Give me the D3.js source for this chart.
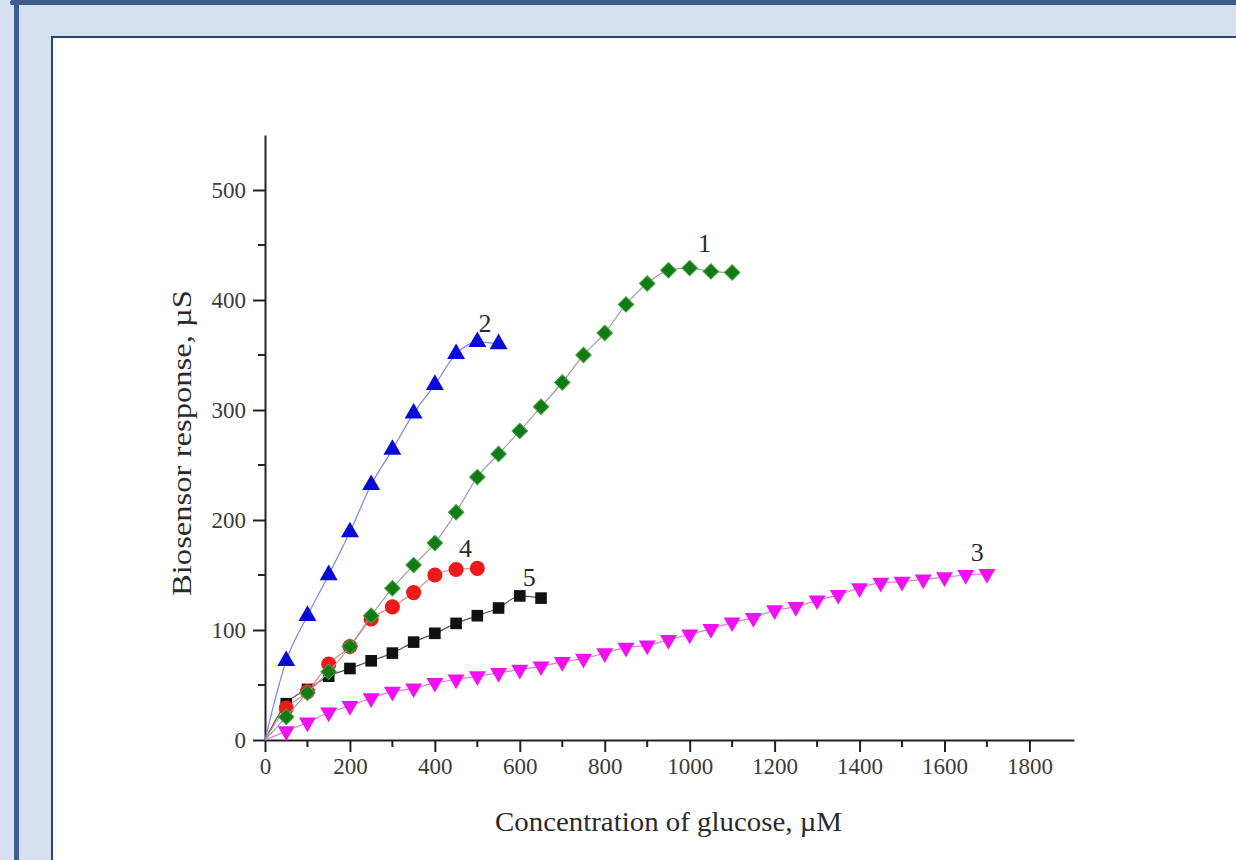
<!DOCTYPE html>
<meta charset="utf-8">
<head>
<style>
body { margin: 0; background: #d6e0f1; }
svg { display: block; }
.tick text { font-family: "Liberation Serif", serif; font-size: 23px; fill: #3a3a3a; }
.axis-title { font-family: "Liberation Serif", serif; font-size: 27px; fill: #2a2a2a; }
.curve-label { font-family: "Liberation Serif", serif; font-size: 26px; fill: #2a2a2a; }
</style>
</head>
<body>
<div id="chart"></div>
<script src="https://d3js.org/d3.v7.min.js"></script>
<script>

// concentrations (uM)
var conc1 = [50,100,150,200,250,300,350,400,450,500,550,600,650,700,750,800,850,900,950,1000,1050,1100];
var resp1 = [21,43,62,85,113,138,159,179,207,239,260,281,303,325,350,370,396,415,427,429,426,425];

var conc2 = [50,100,150,200,250,300,350,400,450,500,550];
var resp2 = [72,113,150,189,232,264,297,323,351,362,360];

var conc3 = [50,100,150,200,250,300,350,400,450,500,550,600,650,700,750,800,850,900,950,1000,1050,1100,1150,1200,1250,1300,1350,1400,1450,1500,1550,1600,1650,1700];
var resp3 = [8,16,25,31,38,44,47,52,55,58,61,64,67,71,74,79,84,86,91,96,101,107,111,118,121,127,132,138,143,144,146,148,150,151];

var conc4 = [50,100,150,200,250,300,350,400,450,500];
var resp4 = [29,44,69,85,110,121,134,150,155,156];

var conc5 = [50,100,150,200,250,300,350,400,450,500,550,600,650];
var resp5 = [33,46,58,65,72,79,89,97,106,113,120,131,129];

var curveNames = ["1","2","3","4","5"];
var xTicks = [0,200,400,600,800,1000,1200,1400,1600,1800];
var yTicks = [0,100,200,300,400,500];

var W = 1236, H = 860;

var svg = d3.select("#chart").append("svg")
    .attr("width", W)
    .attr("height", H);

// slide frame
svg.append("rect").attr("width", W).attr("height", H).attr("fill", "#d6e0f1");
svg.append("rect").attr("x", 10).attr("y", 0).attr("width", W).attr("height", 5)
    .attr("rx", 2).attr("fill", "#3d5e8c");
svg.append("rect").attr("x", 14).attr("y", 0).attr("width", 5).attr("height", H)
    .attr("fill", "#3d5e8c");
svg.append("rect").attr("x", 52).attr("y", 37).attr("width", W).attr("height", H)
    .attr("fill", "#fff").attr("stroke", "#2c4670").attr("stroke-width", 2);

var x = d3.scaleLinear().domain([0, 1905]).range([265, 1074]);
var y = d3.scaleLinear().domain([0, 550]).range([740, 135]);

// x axis: major ticks + minor
var xAxis = svg.append("g").attr("transform", "translate(0,740)");
xAxis.call(d3.axisBottom(x).tickValues(xTicks).tickFormat(d3.format("d"))
    .tickSize(12).tickPadding(6).tickSizeOuter(0));
xAxis.append("g").selectAll("line")
    .data(d3.range(100, 1900, 200))
    .enter().append("line")
    .attr("x1", function(d) { return x(d); }).attr("x2", function(d) { return x(d); })
    .attr("y1", 0).attr("y2", 7)
    .attr("stroke", "#222").attr("stroke-width", 2);

var yAxis = svg.append("g").attr("transform", "translate(265,0)");
yAxis.call(d3.axisLeft(y).tickValues(yTicks).tickFormat(d3.format("d"))
    .tickSize(12).tickPadding(7).tickSizeOuter(0));
yAxis.append("g").selectAll("line")
    .data(d3.range(50, 550, 100))
    .enter().append("line")
    .attr("y1", function(d) { return y(d); }).attr("y2", function(d) { return y(d); })
    .attr("x1", 0).attr("x2", -7)
    .attr("stroke", "#222").attr("stroke-width", 2);

svg.selectAll(".domain").attr("stroke", "#222").attr("stroke-width", 2);
svg.selectAll(".tick line").attr("stroke", "#222").attr("stroke-width", 2);

svg.append("text").attr("class", "axis-title")
    .attr("x", 495).attr("y", 831)
    .attr("textLength", 347).attr("lengthAdjust", "spacingAndGlyphs")
    .text("Concentration of glucose, \u00b5M");

svg.append("text").attr("class", "axis-title")
    .attr("transform", "translate(191,596) rotate(-90)")
    .attr("textLength", 306).attr("lengthAdjust", "spacingAndGlyphs")
    .text("Biosensor response, \u00b5S");

// series in drawing order: 3, 5, 4, 1, 2
var series = [
  {name: "3", xs: conc3, ys: resp3, fill: "#f010f0", line: "#e07ae0", shape: "down", size: 125},
  {name: "5", xs: conc5, ys: resp5, fill: "#111111", line: "#555555", shape: "square", size: 135},
  {name: "4", xs: conc4, ys: resp4, fill: "#ee1a1a", line: "#e08888", shape: "circle", size: 180},
  {name: "1", xs: conc1, ys: resp1, fill: "#137a17", line: "#a0a0a0", shape: "diamond", size: 120},
  {name: "2", xs: conc2, ys: resp2, fill: "#0a0ad8", line: "#7a86d8", shape: "up", size: 140}
];

var line = d3.line()
    .x(function(d) { return x(d[0]); })
    .y(function(d) { return y(d[1]); })
    .curve(d3.curveMonotoneX);

series.forEach(function(s) {
  var pts = [[0, 0]].concat(s.xs.map(function(v, i) { return [v, s.ys[i]]; }));
  svg.append("path")
      .attr("d", line(pts))
      .attr("fill", "none")
      .attr("stroke", s.line)
      .attr("stroke-width", 1.2);

  var sym, rot = 0;
  if (s.shape == "circle") sym = d3.symbolCircle;
  else if (s.shape == "square") sym = d3.symbolSquare;
  else if (s.shape == "diamond") { sym = d3.symbolSquare; rot = 45; }
  else if (s.shape == "up") sym = d3.symbolTriangle;
  else { sym = d3.symbolTriangle; rot = 180; }

  svg.append("g").selectAll("path")
    .data(pts.slice(1))
    .enter().append("path")
      .attr("d", d3.symbol().type(sym).size(s.size))
      .attr("transform", function(d) {
        return "translate(" + x(d[0]) + "," + y(d[1]) + ") rotate(" + rot + ")";
      })
      .attr("fill", s.fill)
      .attr("stroke", s.shape == "diamond" ? "#3aa53a" : "none")
      .attr("stroke-width", 1);
});

// curve numbers
var labelX = [1035, 518, 1677, 472, 622];
var labelY = [429, 362, 151, 156, 131];
var labelDy = [-16, -10, -13, -11, -10];
svg.append("g").selectAll("text")
  .data(curveNames)
  .enter().append("text")
    .attr("class", "curve-label")
    .attr("x", function(d, i) { return x(labelX[i]); })
    .attr("y", function(d, i) { return y(labelY[i]) + labelDy[i]; })
    .attr("text-anchor", "middle")
    .text(function(d) { return d; });

</script>
</body>
